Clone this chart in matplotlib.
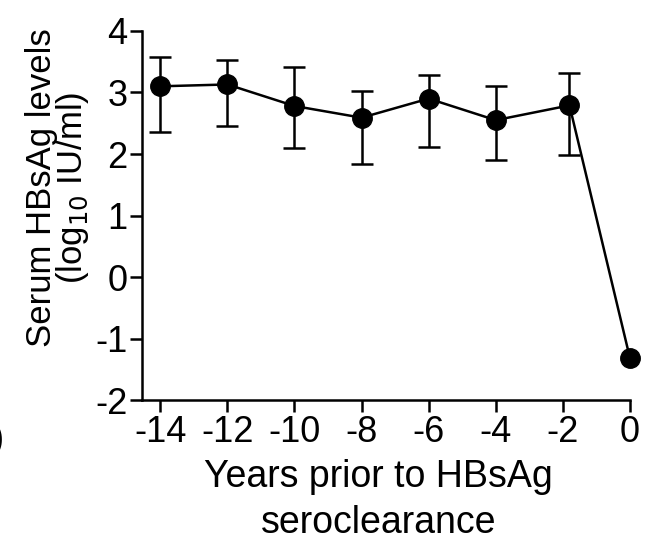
import matplotlib.pyplot as plt

plt.rcParams['font.family'] = ['Liberation Sans', 'DejaVu Sans']
plt.rcParams['axes.unicode_minus'] = False

years = [-14, -12, -10, -8, -6, -4, -1.8, 0]
hbsag = [3.10, 3.13, 2.78, 2.59, 2.90, 2.55, 2.79, -1.31]
err_hi = [3.57, 3.53, 3.42, 3.02, 3.28, 3.11, 3.31, None]
err_lo = [2.35, 2.45, 2.10, 1.83, 2.11, 1.90, 1.99, None]

xticks = [-14, -12, -10, -8, -6, -4, -2, 0]
yticks = [-2, -1, 0, 1, 2, 3, 4]

fig = plt.figure(figsize=(6.48, 5.52), dpi=100)
ax = fig.add_axes([0.219, 0.275, 0.753, 0.669])

# error bars only where there is a range
ex = [x for x, h in zip(years, err_hi) if h is not None]
ey = [y for y, h in zip(hbsag, err_hi) if h is not None]
up = [h - y for y, h in zip(ey, [h for h in err_hi if h is not None])]
dn = [y - l for y, l in zip(ey, [l for l in err_lo if l is not None])]
ax.errorbar(ex, ey, yerr=[dn, up], fmt='none', ecolor='black',
            elinewidth=1.8, capsize=8, capthick=1.8)
ax.plot(years, hbsag, color='black', lw=1.8, marker='o', markersize=14)

ax.set_xlim(-14.55, 0)
ax.set_ylim(-2, 4)
ax.set_xticks(xticks)
ax.set_yticks(yticks)
ax.spines['top'].set_visible(False)
ax.spines['right'].set_visible(False)
for s in ['left', 'bottom']:
    ax.spines[s].set_linewidth(1.8)
ax.tick_params(width=1.8, length=8.5, labelsize=26, pad=2)
for art in ax.lines + ax.collections:
    art.set_clip_on(False)

ax.set_xlabel('Years prior to HBsAg\nseroclearance', fontsize=27,
              linespacing=1.35, va='top')
ax.xaxis.set_label_coords(0.485, -0.16)
ax.set_ylabel('Serum HBsAg levels\n(log$_{10}$ IU/ml)', fontsize=25,
              linespacing=0.85)
ax.yaxis.set_label_coords(-0.105, 0.575)

fig.text(0.006, 0.203, ')', fontsize=26, ha='right', va='center')

fig.savefig('out.png', dpi=100)
